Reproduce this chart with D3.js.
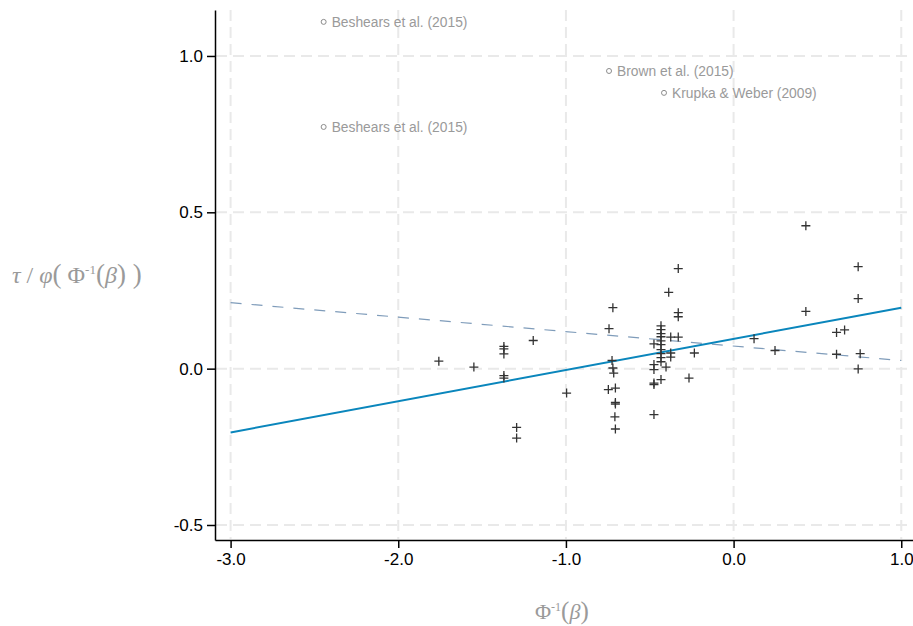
<!DOCTYPE html>
<html>
    <head>
        <script src="https://d3js.org/d3.v7.min.js"></script>
        <style>
            body {
                margin: 0;
                background: #ffffff;
            }
            svg {
                display: block;
            }
            .tick text {
                font-family: 'Liberation Sans', Arial, sans-serif;
                font-size: 17px;
                fill: #000;
            }
            .grid line {
                stroke: #e9e9e9;
                stroke-width: 2px;
                stroke-dasharray: 11, 6;
            }
            .title {
                font-family: 'Liberation Serif', 'Times New Roman', serif;
                fill: #9a9a9a;
            }
            .label {
                font-family: 'Liberation Sans', Arial, sans-serif;
                font-size: 13.8px;
                fill: #9a9a9a;
            }
        </style>
    </head>
    <body>
        <script>
            // study estimates (+ markers)
            const pointX = [
                -1.758, -1.549, -1.195, -1.37, -1.37, -1.37, -1.37, -1.37, -1.294, -1.294, -0.996,
                -0.72, -0.743, -0.725, -0.72, -0.715, -0.747, -0.705, -0.705, -0.705, -0.708, -0.705,
                -0.475, -0.475, -0.475, -0.475, -0.475, -0.475,
                -0.433, -0.433, -0.433, -0.433, -0.433, -0.433, -0.433, -0.433, -0.433, -0.433, -0.433,
                -0.403, -0.387, -0.375, -0.375, -0.375, -0.33, -0.33, -0.33, -0.33, -0.266, -0.234,
                0.122, 0.247, 0.431, 0.431, 0.743, 0.743, 0.614, 0.662, 0.614, 0.755, 0.743,
            ];
            const pointY = [
                0.024, 0.005, 0.09, 0.071, 0.063, 0.047, -0.022, -0.03, -0.188, -0.222, -0.078,
                0.195, 0.128, 0.026, 0.002, -0.014, -0.067, -0.062, -0.108, -0.113, -0.154, -0.193,
                0.079, 0.013, -0.003, -0.046, -0.051, -0.147,
                0.137, 0.125, 0.112, 0.102, 0.089, 0.077, 0.061, 0.048, 0.035, 0.022, -0.035,
                0.005, 0.244, 0.101, 0.05, 0.037, 0.101, 0.179, 0.166, 0.32, -0.03, 0.05,
                0.096, 0.058, 0.457, 0.183, 0.326, 0.224, 0.116, 0.124, 0.046, 0.048, -0.001,
            ];

            // labelled outliers (o markers)
            const outlierX = [-2.445, -2.445, -0.743, -0.415];
            const outlierY = [1.109, 0.773, 0.952, 0.882];
            const outlierLabels = ['Beshears et al. (2015)', 'Beshears et al. (2015)', 'Brown et al. (2015)', 'Krupka & Weber (2009)'];

            // fitted lines, evaluated at the ends of the range
            const fitX = [-3, 1];
            const fitSolid = [-0.204, 0.195];
            const fitDashed = [0.211, 0.026];

            const xTicks = [-3, -2, -1, 0, 1];
            const yTicks = [-0.5, 0, 0.5, 1];

            const width = 913;
            const height = 626;
            const margin = { top: 10, right: 0, bottom: 86, left: 215 };

            const x = d3.scaleLinear().domain([-3.093, 1.07]).range([margin.left, width - margin.right]);
            const y = d3.scaleLinear().domain([-0.548, 1.147]).range([height - margin.bottom, margin.top]);

            const svg = d3.select('body').append('svg').attr('width', width).attr('height', height);

            // grid
            svg.append('g')
                .attr('class', 'grid')
                .selectAll('line.h')
                .data(yTicks)
                .join('line')
                .attr('x1', margin.left + 1)
                .attr('x2', width)
                .attr('y1', (d) => y(d))
                .attr('y2', (d) => y(d));
            svg.append('g')
                .attr('class', 'grid')
                .selectAll('line.v')
                .data(xTicks)
                .join('line')
                .attr('x1', (d) => x(d))
                .attr('x2', (d) => x(d))
                .attr('y1', margin.top)
                .attr('y2', height - margin.bottom - 1);

            // axes
            const xAxis = svg
                .append('g')
                .attr('transform', `translate(0,${height - margin.bottom})`)
                .call(d3.axisBottom(x).tickValues(xTicks).tickSize(8).tickPadding(5).tickSizeOuter(0));
            const yAxis = svg
                .append('g')
                .attr('transform', `translate(${margin.left},0)`)
                .call(d3.axisLeft(y).tickValues(yTicks).tickSize(8).tickPadding(4).tickSizeOuter(0));
            [xAxis, yAxis].forEach((a) => {
                a.select('.domain').attr('stroke', '#000').attr('stroke-width', 1.5);
                a.selectAll('.tick line').attr('stroke', '#000').attr('stroke-width', 1.5);
                a.selectAll('.tick text').text((d) => d.toFixed(1));
            });

            // fitted lines
            const line = d3
                .line()
                .x((d) => x(d[0]))
                .y((d) => y(d[1]));
            svg.append('path')
                .datum(fitX.map((v, i) => [v, fitDashed[i]]))
                .attr('d', line)
                .attr('fill', 'none')
                .attr('stroke', '#7f9cba')
                .attr('stroke-width', 1.2)
                .attr('stroke-dasharray', '11,10');
            svg.append('path')
                .datum(fitX.map((v, i) => [v, fitSolid[i]]))
                .attr('d', line)
                .attr('fill', 'none')
                .attr('stroke', '#0a86bc')
                .attr('stroke-width', 2);

            // + markers
            const s = 4.5;
            svg.append('g')
                .selectAll('path')
                .data(pointX.map((v, i) => [v, pointY[i]]))
                .join('path')
                .attr('d', (d) => `M${x(d[0]) - s},${y(d[1])}h${2 * s}M${x(d[0])},${y(d[1]) - s}v${2 * s}`)
                .attr('stroke', '#333')
                .attr('stroke-width', 1.3)
                .attr('fill', 'none');

            // outliers
            const out = svg
                .append('g')
                .selectAll('g')
                .data(outlierX.map((v, i) => ({ x: v, y: outlierY[i], label: outlierLabels[i] })))
                .join('g')
                .attr('transform', (d) => `translate(${x(d.x)},${y(d.y)})`);
            out.append('circle').attr('r', 2.5).attr('fill', 'none').attr('stroke', '#8c8c8c').attr('stroke-width', 1);
            out.append('text')
                .attr('class', 'label')
                .attr('x', 8)
                .attr('dy', '0.35em')
                .text((d) => d.label);

            // axis titles
            const yt = svg.append('text').attr('class', 'title').attr('x', 12).attr('y', 283).attr('font-size', 24);
            yt.append('tspan').attr('font-style', 'italic').text('τ');
            yt.append('tspan').text(' / ');
            yt.append('tspan').attr('font-style', 'italic').text('φ');
            yt.append('tspan').attr('font-size', 27).text('(');
            yt.append('tspan').text(' Φ');
            yt.append('tspan').attr('font-size', 13).attr('dy', -9).text('-1');
            yt.append('tspan').attr('dy', 9).attr('font-size', 27).text('(');
            yt.append('tspan').attr('font-style', 'italic').text('β');
            yt.append('tspan').attr('font-size', 27).text(') )');

            const xt = svg.append('text').attr('class', 'title').attr('x', 535).attr('y', 619).attr('font-size', 22);
            xt.append('tspan').text('Φ');
            xt.append('tspan').attr('font-size', 12).attr('dy', -8).text('-1');
            xt.append('tspan').attr('dy', 8).attr('font-size', 25).text('(');
            xt.append('tspan').attr('font-style', 'italic').text('β');
            xt.append('tspan').attr('font-size', 25).text(')');
        </script>
    </body>
</html>
